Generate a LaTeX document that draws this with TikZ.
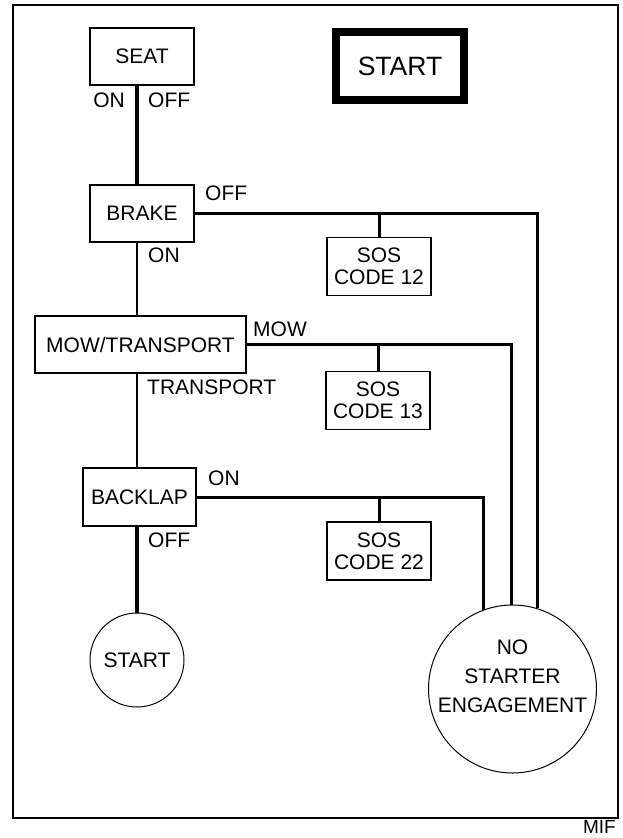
\documentclass[tikz,border=0pt]{standalone}
\usepackage{fontspec}
\setmainfont{Liberation Sans}
\def\txt{\fontsize{21}{22}\selectfont}
\begin{document}
\begin{tikzpicture}[x=1pt,y=-1pt,
				box/.style={rectangle,draw,line width=1.5pt,minimum height=57pt,inner sep=0pt,align=center,font=\txt},
				sos/.style={box,minimum width=104pt,minimum height=58pt},
				stop/.style={circle,draw,line width=1pt,inner sep=0pt,align=center},
				labr/.style={anchor=base west,inner sep=0pt,font=\txt},
				labl/.style={anchor=base east,inner sep=0pt,font=\txt},
				heavy/.style={line width=3.5pt},
				light/.style={line width=2pt},
				wire/.style={line width=3pt}]
				\useasboundingbox (0,0) rectangle (622,838);
				\draw [line width=2pt] (13,5) rectangle (618,818);
				\node [anchor=base east,inner sep=0pt,font=\fontsize{19}{20}\selectfont] (mif) at (616,833) {MIF};
				\node [rectangle,draw,line width=8pt,minimum width=128pt,minimum height=68pt,font=\fontsize{26.5}{28}\selectfont] (title) at (400,66) {START};
				\node [box,minimum width=104pt] 		(seat) 		at (142,56.5)		{SEAT};
				\node [box,minimum width=104pt] 		(brake) 	at (142,213.5)		{BRAKE};
				\node [box,minimum width=211pt] 		(mow) 		at (140.5,344.5)	{MOW/TRANSPORT};
				\node [box,minimum width=113pt,minimum height=58pt] (backlap) at (139.5,497) {BACKLAP};
				\node [sos] 		(sos12) 	at (379,266.5)		{SOS\\CODE 12};
				\node [sos] 		(sos13) 	at (378,400.5)		{SOS\\CODE 13};
				\node [sos] 		(sos22) 	at (379,551)		{SOS\\CODE 22};
				\node [stop,minimum size=94pt,font=\txt] 		(start) 	at (137,660)	{START};
				\node [stop,minimum size=168pt] (nse) at (512.5,689) {};
					\node [align=center,inner sep=0pt,font=\fontsize{21}{29}\selectfont] (nsetxt) at ([yshift=13pt]nse.center) {NO\\STARTER\\ENGAGEMENT};
				\draw [heavy] (seat.south -| start.north) -- (brake.north -| start.north);
				\draw [light] (brake.south -| start.north) -- (mow.north -| start.north);
				\draw [light] (mow.south -| start.north) -- (backlap.north -| start.north);
				\draw [heavy] (backlap.south -| start.north) -- (start.north);
				\draw [wire] (brake.east) -| (nse.73.7);
				\draw [wire] (mow.east) -| (nse.91.7);
				\draw [wire] (backlap.east) -| (nse.110.6);
				\draw [wire] (sos12.north) -- (sos12.north |- brake.east);
				\draw [wire] (sos13.north) -- (sos13.north |- mow.east);
				\draw [wire] (sos22.north) -- (sos22.north |- backlap.east);
					\node [labl] at (125,107)	{ON};
					\node [labr] at (148,107)	{OFF};
					\node [labr] at (205,200)	{OFF};
					\node [labr] at (148,262)	{ON};
					\node [labr] at (253,336)	{MOW};
					\node [labr] at (147,394)	{TRANSPORT};
					\node [labr] at (208,485)	{ON};
					\node [labr] at (148,547)	{OFF};
			\end{tikzpicture}
\end{document}
